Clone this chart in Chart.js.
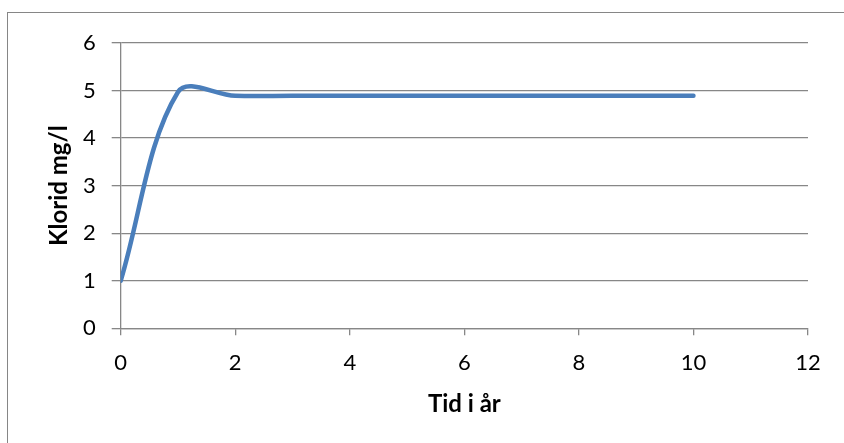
<!DOCTYPE html>
<html>
<head>
<meta charset="utf-8">
<script src="https://cdn.jsdelivr.net/npm/chart.js@4/dist/chart.umd.min.js"></script>
<style>
  html, body { margin: 0; padding: 0; background: #fff; }
  #wrap { position: relative; width: 844px; height: 443px; overflow: hidden; }
  #frame { position: absolute; left: 7px; top: 12px; width: 900px; height: 500px; border: 1.5px solid #868686; }
  canvas { position: absolute; left: 0; top: 0; }
</style>
</head>
<body>
<div id="wrap">
  <div id="frame"></div>
  <canvas id="chart-klorid" width="844" height="443"></canvas>
</div>
<script>
// Klorid over tid
const years = [0, 1, 2, 3, 4, 5, 6, 7, 8, 9, 10];
const chloride = [1, 4.97, 4.89, 4.89, 4.89, 4.89, 4.89, 4.89, 4.89, 4.89, 4.89];
const xTicks = [0, 2, 4, 6, 8, 10, 12];
const yTicks = [0, 1, 2, 3, 4, 5, 6];

const gridColor = '#878787';
const tickFont = { family: 'Lato', size: 22 };
const titleFont = { family: 'Lato', size: 24, weight: 'bold' };

(() => {
    let ctx = document.getElementById('chart-klorid').getContext('2d');

    new Chart(ctx, {
        type: 'scatter',
        data: {
            datasets: [{
                label: 'Klorid',
                data: years.map((x, i) => ({ x: x, y: chloride[i] })),
                showLine: true,
                borderColor: '#4a7ebb',
                borderWidth: 4.5,
                borderCapStyle: 'round',
                borderJoinStyle: 'round',
                tension: 0.35,
                pointRadius: 0,
                pointHoverRadius: 0
            }]
        },
        options: {
            responsive: false,
            animation: false,
            events: [],
            layout: { padding: { top: 43, right: 36, left: 0, bottom: 0 } },
            plugins: { legend: { display: false }, tooltip: { enabled: false } },
            scales: {
                x: {
                    type: 'linear',
                    min: xTicks[0],
                    max: xTicks[xTicks.length - 1],
                    afterBuildTicks: s => { s.ticks = xTicks.map(v => ({ value: v })); },
                    afterFit: s => { s.height = 114.7; },
                    ticks: { color: '#000', font: tickFont, padding: 14 },
                    grid: { drawOnChartArea: false, drawTicks: true, tickLength: 7, color: gridColor, lineWidth: 1.3 },
                    border: { color: gridColor, width: 1.3 },
                    title: { display: true, text: 'Tid i år', color: '#000', font: titleFont, padding: { bottom: 24 } }
                },
                y: {
                    min: yTicks[0],
                    max: yTicks[yTicks.length - 1],
                    afterBuildTicks: s => { s.ticks = yTicks.map(v => ({ value: v })); },
                    afterFit: s => { s.width = 120.7; },
                    ticks: { color: '#000', font: tickFont, padding: 16 },
                    grid: { drawTicks: true, tickLength: 9, color: gridColor, lineWidth: 1.3 },
                    border: { color: gridColor, width: 1.3 },
                    title: { display: true, text: 'Klorid mg/l', color: '#000', font: titleFont, padding: { top: 45 } }
                }
            }
        }
    });
})();
</script>
</body>
</html>
